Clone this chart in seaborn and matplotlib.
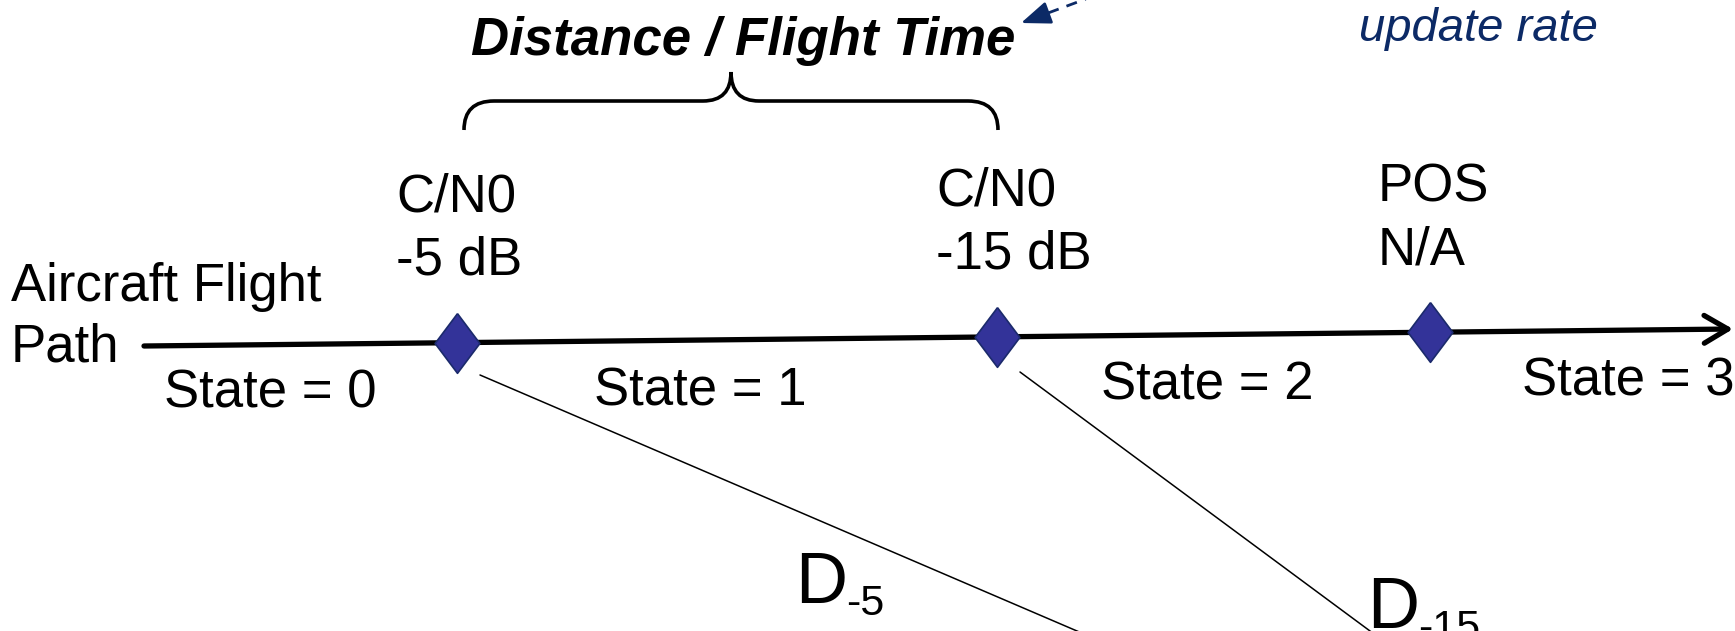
import numpy as np
import pandas as pd
import matplotlib.pyplot as plt
import seaborn as sns
from matplotlib.path import Path
from matplotlib.patches import PathPatch

# diagram coordinates (pixel-like units, y grows downward)
path_x = [144, 1733]
path_y = [346, 329]

node_x = [457, 997, 1430]
node_line1 = ["C/N0", "C/N0", "POS"]
node_line2 = ["-5 dB", "-15 dB", "N/A"]

state_labels = ["State = 0", "State = 1", "State = 2", "State = 3"]
state_x = [164, 594, 1101, 1522]
state_y = [407, 405, 399, 395]

sight_start_x = [480, 1020]
sight_start_y = [375, 372]
sight_end_x = [1077, 1370]
dist_subscripts = ["-5", "-15"]

navy = "#0c2a66"
node_fill = "#333399"

sns.set_theme(style="white")
plt.rcParams['font.family'] = ['Liberation Sans', 'DejaVu Sans']
plt.rcParams['text.color'] = 'black'

fig = plt.figure(figsize=(17.35, 6.31), dpi=100)
ax = fig.add_axes([0, 0, 1, 1])

# flight path with arrow
ax.annotate("", xy=(path_x[1], path_y[1]), xytext=(path_x[0], path_y[0]),
            arrowprops=dict(arrowstyle="->,head_length=0.85,head_width=0.5",
                            lw=3.8, color="black", shrinkA=0, shrinkB=0,
                            mutation_scale=20))

# sight lines down to the ground station
for x0, y0, x1 in zip(sight_start_x, sight_start_y, sight_end_x):
    slope = (631 - y0) / (x1 - x0)
    ax.plot([x0, x1 + 40], [y0, 631 + 40 * slope], color="black", lw=1.1)

# state-change markers on the path
nodes = pd.DataFrame({"x": node_x, "y": np.interp(node_x, path_x, path_y)})
diamond = Path([(0, 1), (0.75, 0), (0, -1), (-0.75, 0), (0, 1)])
sns.scatterplot(data=nodes, x="x", y="y", marker=diamond, s=43 ** 2,
                color=node_fill, edgecolor="#1b2a6b", linewidth=1.2,
                zorder=5, legend=False, ax=ax)

# node labels
for i, nx in enumerate(node_x):
    tx = nx - 61 if i < 2 else nx - 52
    ty = np.interp(nx, path_x, path_y)
    ax.text(tx, ty - 131, node_line1[i], fontsize=38, va="baseline", ha="left")
    ax.text(tx, ty - 68, node_line2[i], fontsize=38, va="baseline", ha="left")

ax.text(11, 301, "Aircraft Flight", fontsize=38, va="baseline", ha="left")
ax.text(11, 361, "Path", fontsize=38, va="baseline", ha="left")

for lab, sx, sy in zip(state_labels, state_x, state_y):
    ax.text(sx, sy, lab, fontsize=38, va="baseline", ha="left")

# distance labels
dist_pos = [(795, 603), (1367, 628)]
for sub, (dx, dy) in zip(dist_subscripts, dist_pos):
    ax.text(dx, dy, "D", fontsize=52, va="baseline", ha="left")
    ax.text(dx + 51, dy + 12, sub, fontsize=31, va="baseline", ha="left")

# brace over the first interval
bl, br, bc = node_x[0] + 7, node_x[1] + 1, 731
top, mid, bot = 72, 101, 130
verts = [(bl, bot), (bl, mid), (bl + 30, mid), (bc - 28, mid),
         (bc, mid), (bc, top), (bc, mid), (bc + 28, mid),
         (br - 30, mid), (br, mid), (br, bot)]
codes = [Path.MOVETO, Path.CURVE3, Path.CURVE3, Path.LINETO,
         Path.CURVE3, Path.CURVE3, Path.CURVE3, Path.CURVE3,
         Path.LINETO, Path.CURVE3, Path.CURVE3]
ax.add_patch(PathPatch(Path(verts, codes), fill=False, lw=2.6,
                       edgecolor="black"))

ax.text(743, 55, "Distance / Flight Time", fontsize=38, fontweight="bold",
        fontstyle="italic", va="baseline", ha="center")

# dashed pointer from the update-rate note
ax.plot([1030, 1110], [19.7, -10], color=navy, lw=2.0, ls=(0, (4, 3)))
ax.annotate("", xy=(1021, 23), xytext=(1040, 16),
            arrowprops=dict(arrowstyle="-|>,head_length=0.9,head_width=0.35",
                            color=navy, lw=2.0, shrinkA=0, shrinkB=0,
                            mutation_scale=20))
ax.text(1359, 41, "update rate", fontsize=34, fontstyle="italic", color=navy,
        va="baseline", ha="left")

ax.set_xlim(0, 1735)
ax.set_ylim(631, 0)
ax.axis("off")

fig.savefig("out.png", dpi=100)
